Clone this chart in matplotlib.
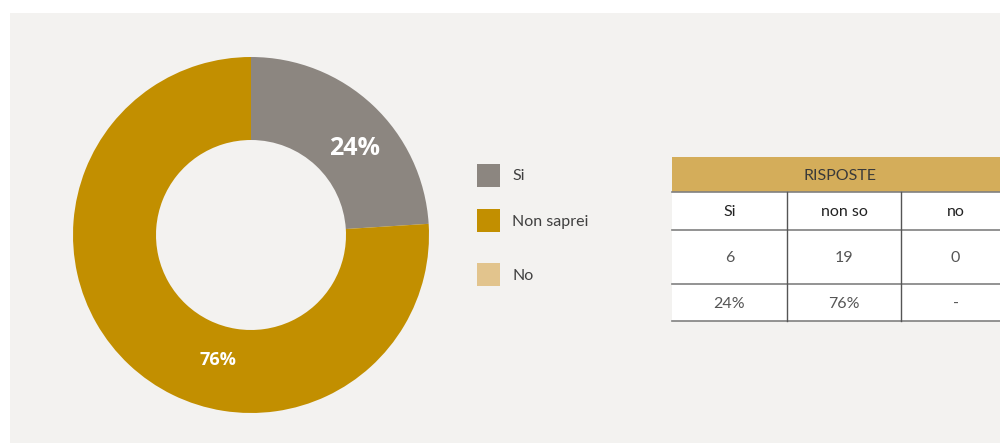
import matplotlib
matplotlib.use("Agg")
import matplotlib.pyplot as plt
from matplotlib.patches import Rectangle

plt.rcParams["font.family"] = ["Lato", "DejaVu Sans"]

# data
legend_labels = ["Si", "Non saprei", "No"]
counts = [6, 19, 0]
pct_labels = ["24%", "76%", "-"]
table_cols = ["Si", "non so", "no"]
table_title = "RISPOSTE"

GREY, GOLD, SAND = "#8c8680", "#c28f00", "#e2c48d"
HEAD, BG, LINE, TXT = "#d4ad5a", "#f3f2f0", "#808080", "#404040"
colors = [GREY, GOLD, SAND]

W, H = 1000, 443
fig = plt.figure(figsize=(W / 100, H / 100), dpi=100)
fig.patch.set_facecolor("white")

# pixel-space canvas
cv = fig.add_axes([0, 0, 1, 1])
cv.set_xlim(0, W)
cv.set_ylim(H, 0)
cv.axis("off")
cv.add_patch(Rectangle((10, 13), 990, 430, facecolor=BG, edgecolor="none"))

# donut
cx, cy, r = 251, 235, 178
pa = fig.add_axes([(cx - r) / W, (H - cy - r) / H, 2 * r / W, 2 * r / H])
pa.pie(counts, colors=colors, startangle=90, counterclock=False, radius=1,
       wedgeprops=dict(width=1 - 95 / 178, edgecolor="none"))
pa.set_aspect("equal")
pa.set_xlim(-1, 1)
pa.set_ylim(-1, 1)
pa.axis("off")


def px(x, y):
    return (x - cx) / r, (cy - y) / r


pa.text(*px(355, 148), pct_labels[0], ha="center", va="center", color="white",
        fontsize=18, fontweight="bold", family=["Open Sans", "DejaVu Sans"])
pa.text(*px(218, 360), pct_labels[1], ha="center", va="center", color="white",
        fontsize=13, fontweight="bold", family=["Open Sans", "DejaVu Sans"])

# legend
for i, (lab, col) in enumerate(zip(legend_labels, colors)):
    y = [175, 220, 274][i]
    cv.add_patch(Rectangle((477, y - 11.5), 23, 23, facecolor=col, edgecolor="none"))
    cv.text(512, y + 1.5, lab, ha="left", va="center", fontsize=11.5, color=TXT)

# table
x0, xs = 672, [672, 787, 901, 1010]
ys = [157, 192, 230, 284, 321]
cv.add_patch(Rectangle((x0, ys[0]), 1000 - x0, ys[1] - ys[0], facecolor=HEAD,
                       edgecolor="none"))
cv.text(840, (ys[0] + ys[1]) / 2 + 1, table_title, ha="center",
        va="center", fontsize=11.5, color="#3a3a3a")
cv.add_patch(Rectangle((x0, ys[1]), 1000 - x0, ys[4] - ys[1], facecolor="white",
                       edgecolor="none"))
rows = [table_cols, [str(c) for c in counts], pct_labels]
for ri, row in enumerate(rows):
    for ci, val in enumerate(row):
        cv.text((xs[ci] + xs[ci + 1]) / 2, (ys[ri + 1] + ys[ri + 2]) / 2 + 1, val,
                ha="center", va="center", fontsize=11.5,
                color="#222222" if ri == 0 else "#555555")
for y in ys[1:]:
    cv.plot([x0, 1000], [y, y], color=LINE, lw=1.2)
for x in xs[1:3]:
    cv.plot([x, x], [ys[1], ys[4]], color="#555555", lw=1)

fig.savefig("out.png", dpi=100, facecolor=fig.get_facecolor())
